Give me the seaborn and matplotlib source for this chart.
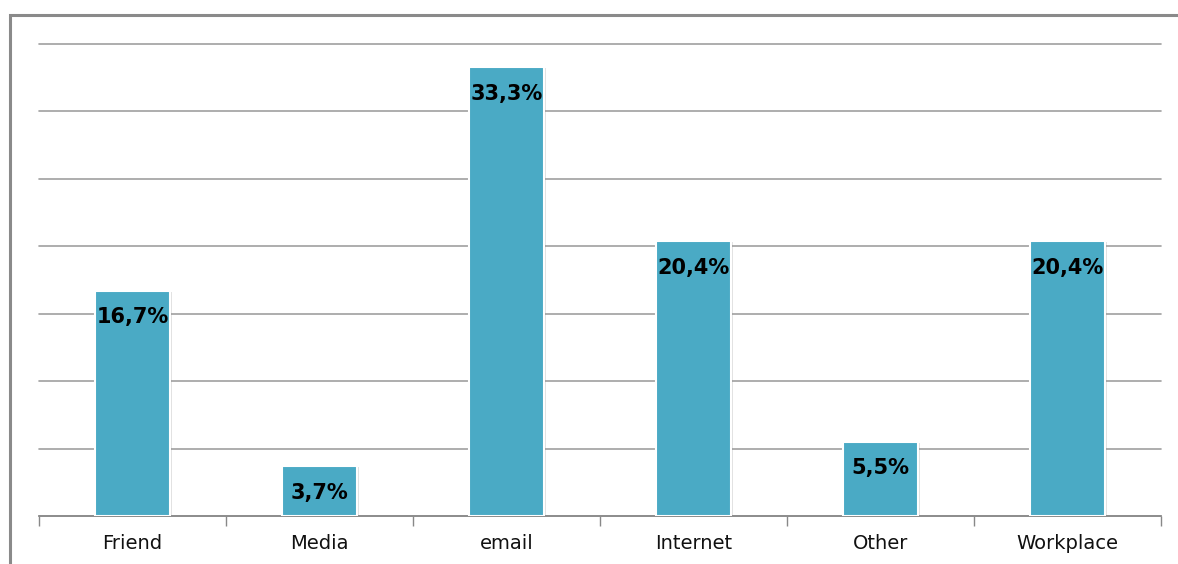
import numpy as np
import pandas as pd
import matplotlib
matplotlib.use("Agg")
import matplotlib.pyplot as plt
import matplotlib.patheffects as pe
from matplotlib.patches import Rectangle
import seaborn as sns

categories = ["Friend", "Media", "email", "Internet", "Other", "Workplace"]
shares = [16.7, 3.7, 33.3, 20.4, 5.5, 20.4]
labels = ["16,7%", "3,7%", "33,3%", "20,4%", "5,5%", "20,4%"]

df = pd.DataFrame({"source": categories, "share": shares})

sns.set_style("white")
plt.rcParams['font.family'] = ['DejaVu Sans']

fig = plt.figure(figsize=(11.78, 5.64), dpi=100)
ax = fig.add_axes([39 / 1178, 1 - 516 / 564, (1161 - 39) / 1178, (516 - 44) / 564])

sns.barplot(data=df, x="source", y="share", color="#4aaac5", width=0.4,
            saturation=1, ax=ax, zorder=3)
for p in ax.patches:
    p.set_edgecolor("white")
    p.set_linewidth(1.5)
    p.set_path_effects([pe.SimplePatchShadow(offset=(1.5, -1), alpha=0.25, shadow_rgbFace="#888888"),
                        pe.Normal()])

ax.set_ylim(0, 35)
ax.set_xlim(-0.5, len(categories) - 0.5)
ax.set_yticks(np.arange(0, 36, 5))
ax.yaxis.grid(True, color="#a0a0a0", linewidth=1.2, zorder=0)
for gl in ax.get_ygridlines():
    gl.set_clip_on(False)
ax.set_axisbelow(True)
ax.tick_params(axis="y", left=False, labelleft=False)
ax.tick_params(axis="x", which="major", bottom=True, length=0, pad=13, labelsize=14, colors="#111111")
ax.set_xticks(np.arange(-0.5, len(categories), 1), minor=True)
ax.tick_params(axis="x", which="minor", bottom=True, length=7, width=1, color="#888888", direction="out")
ax.set_xlabel("")
ax.set_ylabel("")
for s in ["top", "right", "left"]:
    ax.spines[s].set_visible(False)
ax.spines["bottom"].set_color("#888888")
ax.spines["bottom"].set_linewidth(1.2)

for i, (v, t) in enumerate(zip(shares, labels)):
    ax.annotate(t, (i, v), xytext=(0, -12), textcoords="offset points",
                ha="center", va="top", fontsize=15, fontweight="bold", color="black", zorder=5)

# outer frame of the picture
fig.patches.append(Rectangle((10 / 1178, -0.1), 1.2, 1.1 - 15 / 564, transform=fig.transFigure,
                             fill=False, edgecolor="#8a8a8a", linewidth=2.2))

fig.savefig("out.png", dpi=100)
